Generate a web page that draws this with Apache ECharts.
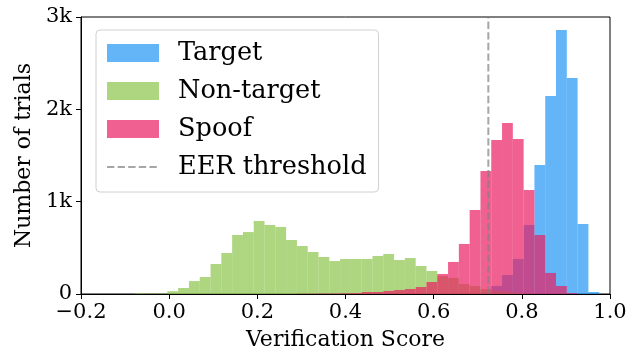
<!DOCTYPE html>
<html>
<head>
<meta charset="utf-8">
<script src="https://cdn.jsdelivr.net/npm/echarts@6/dist/echarts.min.js"></script>
<style>
  html, body { margin: 0; padding: 0; background: #fff; }
  #main { width: 641px; height: 356px; }
</style>
</head>
<body>
<div id="main"></div>
<script>
// shared histogram bins: 49 bins over [-0.2, 1.0]
const binStart = -0.2;
const binWidth = 1.2 / 49;

// counts per bin, starting at the given bin index
const targetFirstBin = 37;
const targetCounts = [15, 87, 206, 379, 748, 1398, 2145, 2860, 2340, 758, 22];

const nontargetFirstBin = 5;
const nontargetCounts = [8, 5, 5, 30, 65, 140, 184, 325, 444, 639, 671, 791, 748, 726, 585, 520,
  455, 401, 357, 379, 379, 379, 412, 433, 368, 390, 303, 249, 195, 173, 108, 87, 54, 33, 22, 10, 5];

const spoofFirstBin = 20;
const spoofCounts = [3, 3, 5, 5, 8, 10, 22, 22, 33, 43, 54, 76, 130, 217, 347, 542, 910, 1333,
  1668, 1853, 1679, 1127, 639, 228, 87, 10];

const eerThreshold = 0.724;

const xTicks = [-0.2, 0.0, 0.2, 0.4, 0.6, 0.8, 1.0];
const yTicks = [0, 1000, 2000, 3000];

function toBins(first, counts) {
  return counts.map((c, i) => {
    const x0 = binStart + (first + i) * binWidth;
    return [x0, x0 + binWidth, c];
  });
}

function renderBar(params, api) {
  const p0 = api.coord([api.value(0), api.value(2)]);
  const p1 = api.coord([api.value(1), 0]);
  return {
    type: 'rect',
    shape: { x: p0[0], y: p0[1], width: p1[0] - p0[0], height: p1[1] - p0[1] },
    style: { fill: api.visual('color') }
  };
}

const serif = 'DejaVu Serif';
const chart = echarts.init(document.getElementById('main'), null, { renderer: 'canvas' });

const option = {
  animation: false,
  backgroundColor: '#fff',
  grid: {
    left: 81, right: 31, top: 17, bottom: 62,
    show: true, borderColor: '#000', borderWidth: 1
  },
  legend: {
    left: 96, top: 30,
    orient: 'vertical',
    itemWidth: 52, itemHeight: 18, itemGap: 12,
    padding: [10, 12, 12, 10],
    borderColor: '#d0d0d0', borderWidth: 1, borderRadius: 4,
    backgroundColor: 'rgba(255,255,255,0.8)',
    textStyle: { fontFamily: serif, fontSize: 25.6, color: '#000', lineHeight: 25, padding: [0, 0, 0, 14] },
    data: [
      { name: 'Target', icon: 'rect' },
      { name: 'Non-target', icon: 'rect' },
      { name: 'Spoof', icon: 'rect' },
      { name: 'EER threshold', itemStyle: { opacity: 0 } }
    ]
  },
  xAxis: {
    type: 'value',
    min: -0.2, max: 1.0, interval: 0.2,
    name: 'Verification Score',
    nameLocation: 'middle', nameGap: 35,
    nameTextStyle: { fontFamily: serif, fontSize: 22, color: '#000' },
    axisLine: { onZero: false, lineStyle: { color: '#000' } },
    axisTick: { length: 5, lineStyle: { color: '#000' } },
    splitLine: { show: false },
    axisLabel: {
      fontFamily: serif, fontSize: 21, color: '#000', margin: 8,
      formatter: v => {
        const t = xTicks.find(x => Math.abs(x - v) < 1e-6);
        const s = (t === undefined ? v : t).toFixed(1);
        return s.replace('-', '\u2212');
      }
    }
  },
  yAxis: {
    type: 'value',
    min: 0, max: 3000, interval: 1000,
    name: 'Number of trials',
    nameLocation: 'middle', nameGap: 44,
    nameTextStyle: { fontFamily: serif, fontSize: 22, color: '#000' },
    axisLine: { show: true, onZero: false, lineStyle: { color: '#000' } },
    axisTick: { show: true, length: 5, lineStyle: { color: '#000' } },
    splitLine: { show: false },
    axisLabel: {
      fontFamily: serif, fontSize: 21, color: '#000', margin: 9,
      formatter: v => (yTicks.includes(v) && v > 0 ? (v / 1000) + 'k' : String(v))
    }
  },
  series: [
    {
      name: 'Target', type: 'custom', renderItem: renderBar,
      itemStyle: { color: 'rgba(33,150,243,0.7)' },
      encode: { x: [0, 1], y: 2 },
      data: toBins(targetFirstBin, targetCounts)
    },
    {
      name: 'Non-target', type: 'custom', renderItem: renderBar,
      itemStyle: { color: 'rgba(139,195,74,0.7)' },
      encode: { x: [0, 1], y: 2 },
      data: toBins(nontargetFirstBin, nontargetCounts)
    },
    {
      name: 'Spoof', type: 'custom', renderItem: renderBar,
      itemStyle: { color: 'rgba(233,30,99,0.7)' },
      encode: { x: [0, 1], y: 2 },
      data: toBins(spoofFirstBin, spoofCounts)
    },
    {
      name: 'EER threshold', type: 'line',
      symbol: 'none',
      color: 'rgba(128,128,128,0.7)',
      lineStyle: { color: 'rgba(128,128,128,0.7)', width: 2, type: [7.4, 3.2] },
      data: [[eerThreshold, 0], [eerThreshold, 3000]],
      z: 5
    }
  ]
};

chart.setOption(option);
</script>
</body>
</html>
